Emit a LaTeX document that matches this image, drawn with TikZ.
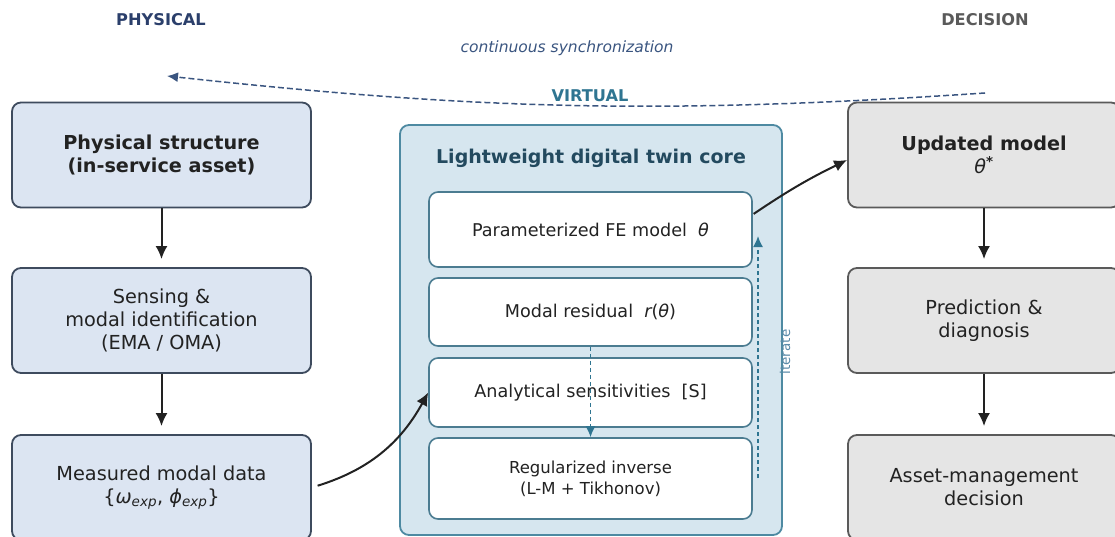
\documentclass[tikz,border=0pt]{standalone}
\usepackage{fontspec}
\setmainfont{DejaVu Sans}
\usetikzlibrary{arrows.meta,positioning}
\definecolor{physfill}{HTML}{DCE5F2}
\definecolor{physdraw}{HTML}{3E4B5E}
\definecolor{decfill}{HTML}{E5E5E5}
\definecolor{decdraw}{HTML}{5A5A5A}
\definecolor{corefill}{HTML}{D6E6EF}
\definecolor{coredraw}{HTML}{4E8AA2}
\definecolor{innerdraw}{HTML}{4B7C91}
\definecolor{tealarrow}{HTML}{2F7591}
\definecolor{navy}{HTML}{2B3F6B}
\definecolor{syncc}{HTML}{3A5580}
\definecolor{textdark}{HTML}{222222}
\definecolor{coretitle}{HTML}{234A5F}
\definecolor{iterc}{HTML}{5A8AA8}

\begin{document}
\begin{tikzpicture}[x=1pt, y=-1pt, >={Latex[length=13pt,width=12pt]},
  box/.style={draw, rounded corners=9pt, line width=1.8pt, align=center, text=textdark, inner sep=0pt, font=\fontsize{19.3}{23}\selectfont},
  ph/.style={box, fill=physfill, draw=physdraw, minimum width=299pt, minimum height=105pt},
  dc/.style={box, fill=decfill, draw=decdraw, minimum width=272pt, minimum height=105pt},
  inr/.style={box, fill=white, draw=innerdraw, line width=1.6pt, minimum width=323pt, font=\fontsize{17.6}{21}\selectfont},
  bold/.style={font=\bfseries\fontsize{19.2}{23.5}\selectfont},
  hdr/.style={font=\bfseries\fontsize{16.2}{18}\selectfont},
  flow/.style={->, line width=2pt, draw=textdark},
  loopy/.style={->, dashed, line width=1.6pt, draw=tealarrow, >={Latex[length=11pt,width=10pt]}}]
\useasboundingbox (0,0) rectangle (1115,537);

% column headers
\node[hdr, text=navy] (hphys) at (161,20) {PHYSICAL};
\node[hdr, text=decdraw] (hdec) at (985,20) {DECISION};
\node[font=\itshape\fontsize{15.5}{18}\selectfont, text=syncc] (sync) at (567,48) {continuous synchronization};
\node[hdr, text=tealarrow] (hvirt) at (590,96) {VIRTUAL};

% physical side
\node[ph, bold] (phys) at (161.5,155) {Physical structure\\(in-service asset)};
\node[ph] (sens) at (161.5,320.5) {Sensing \&\\modal identification\\(EMA / OMA)};
\node[ph] (meas) at (161.5,487.5) {Measured modal data\\\{{\itshape ω}\textsubscript{\itshape exp}, {\itshape ϕ}\textsubscript{\itshape exp}\}};

% decision side
\node[dc, bold] (upd) at (984,155) {Updated model\\{\normalfont\itshape θ}\textsuperscript{*}};
\node[dc] (pred) at (984,320.5) {Prediction \&\\diagnosis};
\node[dc] (asset) at (984,487.5) {Asset-management\\decision};

% twin core
\node[box, fill=corefill, draw=coredraw, minimum width=382pt, minimum height=410pt] (core) at (591,330) {};
\node[font=\bfseries\fontsize{19}{22}\selectfont, text=coretitle] (ctitle) at (591,158) {Lightweight digital twin core};
\node[inr, minimum height=75pt] (param) at (590.5,229.5) {Parameterized FE model~~{\itshape θ}};
\node[inr, minimum height=68pt] (resid) at (590.5,312) {Modal residual~~{\itshape r}({\itshape θ})};
\node[inr, minimum height=69pt] (sensi) at (590.5,392.5) {Analytical sensitivities~~[S]};
\node[inr, minimum height=81pt, font=\fontsize{16.5}{21}\selectfont] (regul) at (590.5,478.5) {Regularized inverse\\(L-M + Tikhonov)};

% arrows
\foreach \a/\b in {phys/sens, sens/meas, upd/pred, pred/asset}
  \draw[flow, shorten >=8pt] (\a) -- (\b);
\draw[flow, shorten <=6pt] (meas.east) to[bend right=22] (sensi.west);
\draw[flow, shorten <=1pt] ([yshift=15pt]param.east) to[bend left=4] ([yshift=-5pt]upd.west);
\draw[loopy, dash pattern=on 4pt off 3pt] (resid.south) -- (regul.north);

% iterate loop
\coordinate (itb) at (758,478);
\coordinate (itt) at (758,236);
\draw[loopy, dash pattern=on 4pt off 3pt] (itb) -- (itt);
\node[rotate=90, text=iterc, font=\fontsize{13.5}{15}\selectfont] (iter) at (785,352) {iterate};

% synchronization
\coordinate (syncR) at (985,93);
\coordinate (syncL) at (167,76);
\draw[->, dash pattern=on 6pt off 3pt, line width=1.5pt, draw=syncc, >={Latex[length=11pt,width=10pt]}] (syncR) to[bend left=5] (syncL);
\end{tikzpicture}
\end{document}
